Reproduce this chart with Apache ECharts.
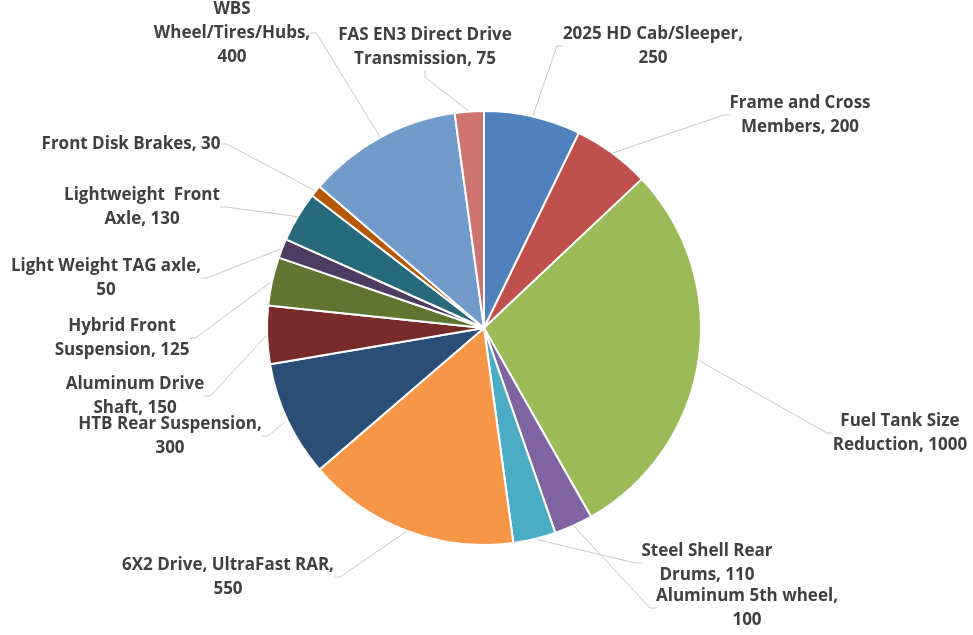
<!DOCTYPE html>
<html lang="en">
<head>
  <meta charset="UTF-8" />
  <title>Weight reduction pie</title>
  <script src="https://cdn.jsdelivr.net/npm/echarts@6.0.0/dist/echarts.min.js"></script>
  <style>
    html, body { margin: 0; padding: 0; background: #fff; }
    #main { width: 973px; height: 635px; }
  </style>
</head>
<body>
  <div id="main"></div>
  <script>
    // 数据（顺时针，从12点方向开始）
    var names = [
      "2025 HD Cab/Sleeper",
      "Frame and Cross\nMembers",
      "Fuel Tank Size\nReduction",
      "Aluminum 5th wheel",
      "Steel Shell Rear\nDrums",
      "6X2 Drive, UltraFast RAR",
      "HTB Rear Suspension",
      "Aluminum Drive\nShaft",
      "Hybrid Front\nSuspension",
      "Light Weight TAG axle",
      "Lightweight  Front\nAxle",
      "Front Disk Brakes",
      "WBS\nWheel/Tires/Hubs",
      "FAS EN3 Direct Drive\nTransmission"
    ];
    var values = [250, 200, 1000, 100, 110, 550, 300, 150, 125, 50, 130, 30, 400, 75];
    var colors = [
      "#4F81BD", "#C0504D", "#9BBB59", "#8064A2", "#4BACC6", "#F79646", "#2C4D75",
      "#772C2A", "#5F7530", "#4D3B62", "#276A7C", "#B65708", "#729ACA", "#CD7371"
    ];
    // 数值是否换行
    var valueNewLine = [true, false, false, true, false, true, true, false, false, true, false, false, true, false];
    // 标签位置（中心x, 顶部y）
    var labelPos = [
      [653, 22], [800, 91], [900, 409], [747, 584], [707, 539], [228, 553], [170, 412],
      [135, 372], [122, 314], [106, 254], [142, 183], [131, 132], [232, -3], [425, 23]
    ];

    var chart = echarts.init(document.getElementById("main"));

    var option = {
      animation: false,
      series: [
        {
          type: "pie",
          center: [484, 328],
          radius: 217,
          startAngle: 90,
          clockwise: true,
          avoidLabelOverlap: false,
          data: names.map(function (n, i) {
            return { name: n, value: values[i], itemStyle: { color: colors[i] } };
          }),
          itemStyle: { borderColor: "#fff", borderWidth: 2 },
          label: {
            show: true,
            position: "outside",
            color: "#404040",
            fontFamily: "Open Sans",
            fontWeight: "bold",
            fontSize: 17,
            lineHeight: 24,
            formatter: function (p) {
              return p.name + (valueNewLine[p.dataIndex] ? ",\n" : ", ") + p.value;
            }
          },
          labelLine: {
            show: true,
            length: 10,
            length2: 6,
            lineStyle: { color: "#C8C8C8", width: 1 }
          },
          labelLayout: function (params) {
            var pos = labelPos[params.dataIndex];
            return { x: pos[0], y: pos[1], align: "center", verticalAlign: "top" };
          }
        }
      ]
    };

    chart.setOption(option);
  </script>
</body>
</html>
